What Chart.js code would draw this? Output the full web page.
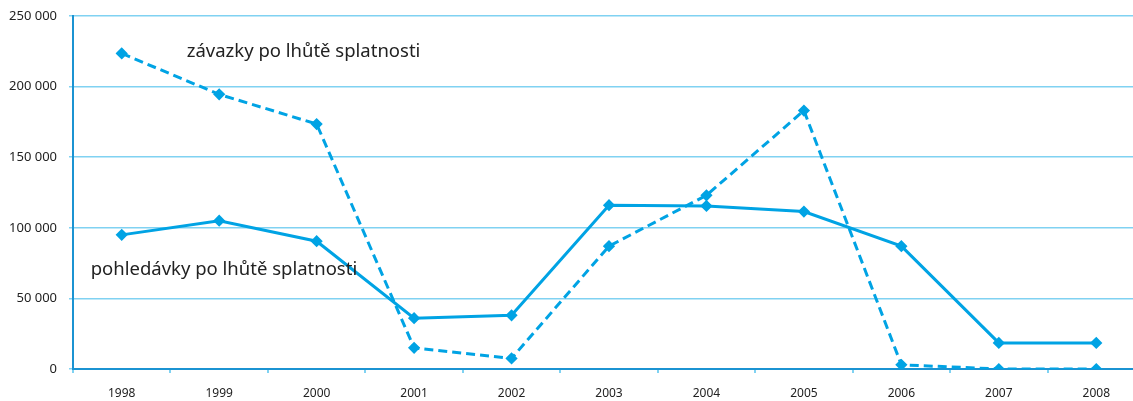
<!DOCTYPE html>
<html>
<head>
<meta charset="utf-8">
<script src="https://cdn.jsdelivr.net/npm/chart.js@4.4.1/dist/chart.umd.min.js"></script>
<style>
  html, body { margin: 0; padding: 0; background: #fff; overflow: hidden; }
  #wrap { width: 1152px; height: 401px; }
</style>
</head>
<body>
<div id="wrap"><canvas id="chart"></canvas></div>
<script>
const years = ["1998", "1999", "2000", "2001", "2002", "2003", "2004", "2005", "2006", "2007", "2008"];
const pohledavky = [95000, 105000, 90500, 36000, 38000, 116000, 115500, 111500, 87000, 18500, 18500];
const zavazky = [223500, 194500, 173500, 15000, 7500, 87000, 123000, 183000, 3000, 0, 0];
const yTicks = [0, 50000, 100000, 150000, 200000, 250000];

const lineBlue = "#00a3e4";
const gridBlue = "#80d2f2";
const axisBlue = "#1b93d2";

// text labels placed next to the lines, anchored on the scales
const seriesLabels = {
  id: "seriesLabels",
  afterDatasetsDraw(chart) {
    const { ctx, scales: { x, y } } = chart;
    ctx.save();
    ctx.font = "18.5px 'Noto Sans'";
    ctx.fillStyle = "#222";
    ctx.textBaseline = "middle";
    ctx.textAlign = "left";
    ctx.fillText("závazky po lhůtě splatnosti", x.getPixelForValue(0) + 65, y.getPixelForValue(224500));
    ctx.fillText("pohledávky po lhůtě splatnosti", x.getPixelForValue(0) - 31, y.getPixelForValue(70500));
    ctx.restore();
  }
};

new Chart(document.getElementById("chart"), {
  type: "line",
  data: {
    labels: years,
    datasets: [{
      label: "pohledávky po lhůtě splatnosti",
      data: pohledavky,
      borderColor: lineBlue,
      backgroundColor: lineBlue,
      borderWidth: 3,
      pointStyle: "rectRot",
      pointRadius: 4,
      fill: false,
      tension: 0
    }, {
      label: "závazky po lhůtě splatnosti",
      data: zavazky,
      borderColor: lineBlue,
      backgroundColor: lineBlue,
      borderWidth: 3,
      borderDash: [9, 5],
      pointStyle: "rectRot",
      pointRadius: 4,
      fill: false,
      tension: 0
    }]
  },
  options: {
    responsive: true,
    maintainAspectRatio: false,
    animation: false,
    layout: { padding: { top: 16, left: 8, right: 0, bottom: 0 } },
    plugins: { legend: { display: false }, tooltip: { enabled: false } },
    scales: {
      x: {
        offset: true,
        afterFit(scale) { scale.height = 32; },
        grid: { offset: true, drawOnChartArea: false, color: gridBlue, tickLength: 4, lineWidth: 2 },
        border: { color: axisBlue, width: 2 },
        ticks: { color: "#222", font: { family: "'Noto Sans'", size: 12 }, padding: 13, maxRotation: 0 }
      },
      y: {
        min: 0,
        max: 250000,
        afterFit(scale) {
          scale.width = 65;
          scale.paddingTop = 0;
          scale.paddingBottom = 0;
        },
        afterBuildTicks(scale) { scale.ticks = yTicks.map(v => ({ value: v })); },
        grid: { color: gridBlue, lineWidth: 1.5, tickLength: 4 },
        border: { color: axisBlue, width: 2 },
        ticks: {
          color: "#222",
          font: { family: "'Noto Sans'", size: 13 },
          padding: 12,
          callback: v => v.toString().replace(/\B(?=(\d{3})+(?!\d))/g, " ")
        }
      }
    }
  },
  plugins: [seriesLabels]
});
</script>
</body>
</html>
